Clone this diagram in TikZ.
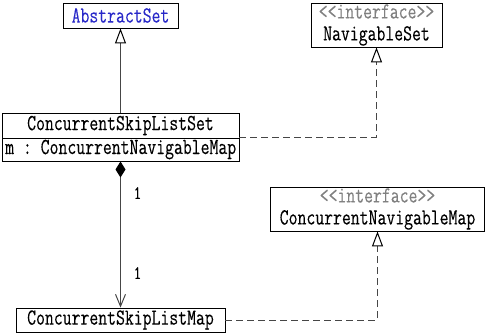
\documentclass[tikz,border=0pt]{standalone}
\usepackage{fontspec}
\setmonofont{Latin Modern Mono}[FakeStretch=0.75,FakeBold=0.2]
\usetikzlibrary{arrows.meta}
\definecolor{absblue}{RGB}{40,40,200}
\definecolor{stereo}{RGB}{128,128,128}
\definecolor{linegray}{RGB}{70,70,70}
\begin{document}
\begin{tikzpicture}[x=1pt,y=-1pt,
  cls/.style={draw=black,line width=0.9pt,inner sep=0pt,align=center,
    font=\ttfamily\fontsize{23}{22}\selectfont},
  txt/.style={inner sep=0pt,font=\ttfamily\fontsize{23}{22}\selectfont},
  mult/.style={inner sep=0pt,font=\ttfamily\fontsize{19}{19}\selectfont},
  gen/.style={draw=linegray,line width=1pt,
    -{Triangle[open,length=15pt,width=11pt,fill=white,color=black]}},
  real/.style={gen,dash pattern=on 7pt off 4pt},
  comp/.style={draw=linegray,line width=1pt,
    {Diamond[length=16pt,width=10pt,fill=black,color=black]}-{Straight Barb[length=12pt,width=10pt]}}]
\useasboundingbox (0,0) rectangle (486,333);
% classes
\node[cls,minimum width=115pt,minimum height=25pt,text=absblue] (abs) at (120.5,15.5) {AbstractSet};
\node[cls,minimum width=131pt,minimum height=44pt] (nav) at (376.5,25)
  {\textcolor{stereo}{<<interface>>}\\NavigableSet};
\node[cls,minimum width=237pt,minimum height=48pt] (setbox) at (120.5,137) {};
\draw[line width=0.9pt] (2,138) -- (239,138);
\node[txt] (setname) at (120.5,125.5) {ConcurrentSkipListSet};
\node[txt,anchor=west] (setattr) at (5,149.5) {m : ConcurrentNavigableMap};
\node[cls,minimum width=214pt,minimum height=44pt] (cnm) at (377.5,209)
  {\textcolor{stereo}{<<interface>>}\\ConcurrentNavigableMap};
\node[cls,minimum width=209pt,minimum height=24pt] (map) at (120.5,320) {ConcurrentSkipListMap};
% connectors
\draw[gen] (setbox.north) -- (abs.south);
\draw[real] (setbox.east) -| (nav.south);
\draw[comp] (setbox.south) -- (map.north);
\draw[real] (map.east) -| (cnm.south);
\node[mult] (m1) at (137.5,193) {1};
\node[mult] (m2) at (137.5,273) {1};
\end{tikzpicture}
\end{document}
